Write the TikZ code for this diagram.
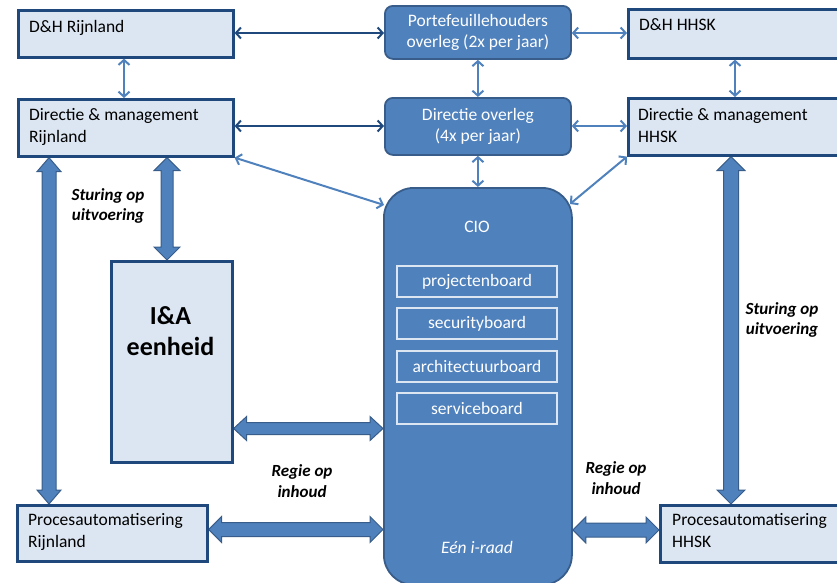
\documentclass[tikz,border=0pt]{standalone}
\usepackage{fontspec}
\setmainfont{Carlito}
\usetikzlibrary{arrows.meta,calc}
\definecolor{lfill}{HTML}{DCE6F2}
\definecolor{navy}{HTML}{1F497D}
\definecolor{mblue}{HTML}{4F81BD}
\definecolor{dblue}{HTML}{385D8A}
\pgfdeclarelayer{bg}
\pgfsetlayers{bg,main}
\newcommand\blockH[5]{%
 \filldraw[barrow] (#1) -- ($(#1)+(#5,-#4)$) -- ($(#1)+(#5,-#3)$) -- ($(#2)+(-#5,-#3)$) -- ($(#2)+(-#5,-#4)$) -- (#2) -- ($(#2)+(-#5,#4)$) -- ($(#2)+(-#5,#3)$) -- ($(#1)+(#5,#3)$) -- ($(#1)+(#5,#4)$) -- cycle;}
\newcommand\blockV[5]{%
 \filldraw[barrow] (#1) -- ($(#1)+(#4,#5)$) -- ($(#1)+(#3,#5)$) -- ($(#2)+(#3,-#5)$) -- ($(#2)+(#4,-#5)$) -- (#2) -- ($(#2)+(-#4,-#5)$) -- ($(#2)+(-#3,-#5)$) -- ($(#1)+(-#3,#5)$) -- ($(#1)+(-#4,#5)$) -- cycle;}
\tikzset{
 base font/.style={font=\fontsize{17.5}{21.5}\selectfont},
 lbox/.style={draw=navy, line width=2.6pt, fill=lfill, inner sep=0pt, anchor=north west},
 dbox/.style={draw=dblue, line width=1.8pt, fill=mblue, rounded corners=8pt, inner sep=0pt, anchor=north west, text=white, align=center, base font},
 board/.style={draw=lfill, line width=1.5pt, fill=mblue, minimum width=160pt, minimum height=31pt, inner sep=0pt, text=white, base font},
 txt/.style={inner sep=0pt, anchor=base west, align=left, base font},
 lab/.style={inner sep=0pt, align=center, font=\fontsize{17}{20.5}\selectfont\bfseries\itshape},
 tipb/.tip={Straight Barb[length=5pt,width=11pt]},
 darr/.style={draw=navy, line width=2pt, tipb-tipb},
 larr/.style={draw=mblue, line width=2pt, tipb-tipb},
 barrow/.style={fill=mblue, draw=dblue, line width=1pt}
}
\begin{document}
\begin{tikzpicture}[x=1pt,y=-1pt]
\useasboundingbox (0,0) rectangle (837,582);
% boxes
\node[lbox, minimum width=215pt, minimum height=47pt] (dhr) at (17,9) {};
\node[lbox, minimum width=215pt, minimum height=57pt] (dmr) at (17,98) {};
\node[lbox, minimum width=215pt, minimum height=49pt] (dhh) at (627,8) {};
\node[lbox, minimum width=215pt, minimum height=57pt] (dmh) at (627,97) {};
\node[lbox, minimum width=121pt, minimum height=201pt] (ia) at (110,260) {};
\node[lbox, minimum width=190pt, minimum height=56pt] (prr) at (16,504) {};
\node[lbox, minimum width=190pt, minimum height=57pt] (prh) at (659,504) {};
\node[dbox, minimum width=186pt, minimum height=53pt] (pf) at (384,5) {Portefeuillehouders\\overleg (2x per jaar)};
\node[dbox, minimum width=186pt, minimum height=57pt] (do) at (384,97) {Directie overleg\\(4x per jaar)};
\node[dbox, rounded corners=30pt, minimum width=188pt, minimum height=397pt] (cio) at (383,187) {};
% texts in light boxes (base = last line)
\node[txt] (dhr-t) at (29,32) {D\&H Rijnland};
\node[txt] (dmr-t) at (29,142) {Directie \& management\\Rijnland};
\node[txt] (dhh-t) at (639,30) {D\&H HHSK};
\node[txt] (dmh-t) at (638,142) {Directie \& management\\HHSK};
\node[txt] (prr-t) at (28,547) {Procesautomatisering\\Rijnland};
\node[txt] (prh-t) at (672,547) {Procesautomatisering\\HHSK};
\node[inner sep=0pt, anchor=base, align=center, font=\fontsize{26}{31}\selectfont\bfseries] (ia-t) at (170.5,355) {I\&A\\eenheid};
% CIO contents
\node[inner sep=0pt, anchor=base, text=white, base font] (cio-t) at (477,232) {CIO};
\node[board] (b1) at (477,281.5) {projectenboard};
\node[board] (b2) at (477,323.5) {securityboard};
\node[board] (b3) at (477,366.5) {architectuurboard};
\node[board] (b4) at (477,408.5) {serviceboard};
\node[inner sep=0pt, anchor=base, text=white, font=\fontsize{17.5}{21.5}\selectfont\itshape] (raad) at (477,553) {Eén i-raad};
% labels
\node[lab] (s1) at (108,206) {Sturing op\\uitvoering};
\node[lab] (s2) at (782,320) {Sturing op\\uitvoering};
\node[lab] (r1) at (302,481) {Regie op\\inhoud};
\node[lab] (r2) at (616,478) {Regie op\\inhoud};
% thin arrows
\draw[darr] (dhr.east |- 0,33) -- (pf.west |- 0,33);
\draw[darr] (dmr.east |- 0,126) -- (do.west |- 0,126);
\draw[larr] (pf.east |- 0,33) -- (dhh.west |- 0,33);
\draw[larr] (do.east |- 0,126) -- (dmh.west |- 0,126);
\draw[larr] (124,0 |- dhr.south) -- (124,0 |- dmr.north);
\draw[larr] (735,0 |- dhh.south) -- (735,0 |- dmh.north);
\draw[larr] (pf.south) -- (do.north);
\draw[larr] (do.south) -- (cio.north);
\coordinate (cl) at (384,205);
\coordinate (cr) at (570,204);
\draw[larr] (dmr.south east) -- (cl);
\draw[larr] (dmh.south west) -- (cr);
% block arrows
\coordinate (v1a) at (49,0 |- dmr.south);
\coordinate (v1b) at (49,0 |- prr.north);
\coordinate (v2a) at (167,0 |- dmr.south);
\coordinate (v2b) at (167,0 |- ia.north);
\coordinate (v3a) at (731,0 |- dmh.south);
\coordinate (v3b) at (731,0 |- prh.north);
\coordinate (h1a) at (ia.east |- 0,428.5);
\coordinate (h1b) at (cio.west |- 0,428.5);
\coordinate (h2a) at (prr.east |- 0,529.5);
\coordinate (h2b) at (cio.west |- 0,529.5);
\coordinate (h3a) at (cio.east |- 0,530);
\coordinate (h3b) at (prh.west |- 0,530);
\begin{pgfonlayer}{bg}
\blockV{v1a}{v1b}{7}{12}{14}
\blockV{v2a}{v2b}{6}{13}{13}
\blockV{v3a}{v3b}{7.5}{14}{14}
\blockH{h1a}{h1b}{6}{12}{13}
\blockH{h2a}{h2b}{7}{13}{13}
\blockH{h3a}{h3b}{7}{13}{13}
\end{pgfonlayer}
\end{tikzpicture}
\end{document}
